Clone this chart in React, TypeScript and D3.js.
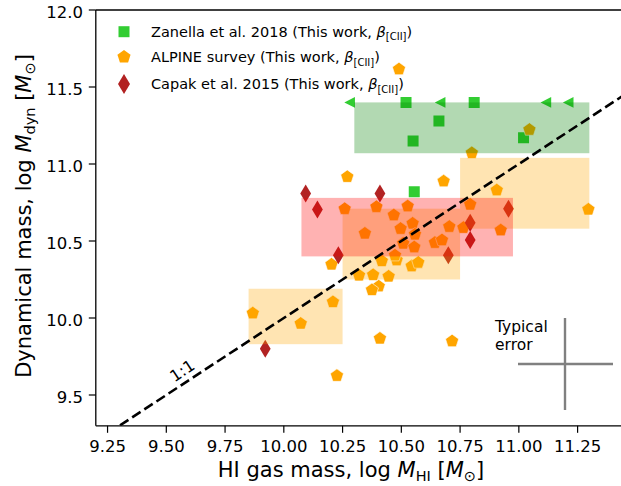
import React from "react";
import * as d3 from "d3";

// ---- data ----
const zanellaX = [10.52, 10.81, 10.66, 10.55, 11.02, 10.555];
const zanellaY = [11.4, 11.4, 11.28, 11.15, 11.17, 10.82];

const limitX = [10.28, 10.665, 11.115, 11.21];
const limitY = [11.4, 11.4, 11.4, 11.4];

const alpineX = [
  10.643, 10.48, 10.544, 10.404, 10.764,
  10.49, 11.045, 10.8, 10.27, 10.68, 10.906, 10.259, 10.394, 10.527, 10.468,
  10.793, 10.548, 10.497, 10.558, 10.345, 10.704, 10.923, 10.673, 10.508,
  10.555, 10.473, 10.417, 10.572, 10.203, 10.32, 10.38, 10.446, 10.375,
  9.868, 10.072, 10.209, 10.409, 10.226, 10.716, 11.296,
];
const alpineY = [
  10.489, 10.376, 10.337, 10.206, 10.586,
  11.616, 11.223, 11.072, 10.917, 10.888, 10.83, 10.709, 10.722, 10.726, 10.668,
  10.737, 10.614, 10.58, 10.543, 10.549, 10.593, 10.57, 10.506, 10.484,
  10.46, 10.407, 10.37, 10.36, 10.348, 10.277, 10.28, 10.27, 10.182,
  10.031, 9.964, 10.104, 9.867, 9.625, 9.85, 10.705,
];

const capakX = [10.093, 10.143, 10.409, 10.956, 10.793, 10.793, 10.7, 10.232, 9.921];
const capakY = [10.808, 10.705, 10.808, 10.709, 10.618, 10.506, 10.407, 10.407, 9.8];

// summary boxes per sample
const boxSample = ["zanella", "alpine", "alpine", "alpine", "capak"];
const boxX0 = [10.3, 10.75, 10.25, 9.85, 10.075];
const boxX1 = [11.3, 11.3, 10.75, 10.25, 10.975];
const boxY0 = [11.07, 10.58, 10.25, 9.83, 10.4];
const boxY1 = [11.4, 11.04, 10.71, 10.19, 10.78];

const xTicks = [9.25, 9.5, 9.75, 10.0, 10.25, 10.5, 10.75, 11.0, 11.25];
const yTicks = [9.5, 10.0, 10.5, 11.0, 11.5, 12.0];

const legendLabels = ["Zanella et al. 2018 (This work, ", "ALPINE survey (This work, ", "Capak et al. 2015 (This work, "];

// ---- styles ----
const W = 621;
const H = 486;
const L = 95.8;
const R = 624.6;
const T = 10;
const B = 425.8;
const FONT = "DejaVu Sans, sans-serif";
const GREEN = "#32cd32";
const ORANGE = "#ffa500";
const RED = "#b22222";
const boxColor: Record<string, string> = { zanella: "green", alpine: "orange", capak: "red" };

const pentagon = (r: number) => {
  const pts = d3.range(5).map((k) => {
    const a = (-90 + 72 * k) * (Math.PI / 180);
    return [r * Math.cos(a), r * Math.sin(a)];
  });
  return "M" + pts.map((p) => p[0].toFixed(2) + "," + p[1].toFixed(2)).join("L") + "Z";
};
const diamond = (hw: number, hh: number) => `M0,${-hh}L${hw},0L0,${hh}L${-hw},0Z`;
const square = (s: number) => `M${-s / 2},${-s / 2}h${s}v${s}h${-s}Z`;
const triLeft = (s: number) => `M${-s},0L${s},${-s}L${s},${s}Z`;

const PENT = pentagon(6.9);
const DIAM = diamond(5.4, 9);
const SQ = square(11);
const TRI = triLeft(5.3);

export default function App() {
  const x = d3.scaleLinear().domain([9.2, 11.45]).range([L, R]);
  const y = d3.scaleLinear().domain([9.3, 12.0]).range([B, T]);

  const lineX = [9.2, 11.45];

  const legendY = [31.7, 57, 84];
  const legendShapes = [SQ, PENT, diamond(6, 10)];
  const legendColors = [GREEN, ORANGE, RED];

  const a = Math.atan2(y(10) - y(9), x(10) - x(9));
  const angle = (a * 180) / Math.PI;
  const lv = 9.595;
  const lblX = x(lv) + Math.sin(a) * 6;
  const lblY = y(lv) - Math.cos(a) * 6;

  return (
    <svg
      width={W}
      height={H}
      style={{ position: "absolute", left: 0, top: 0, background: "#fff" }}
      fontFamily={FONT}
    >
      <defs>
        <clipPath id="plotclip">
          <rect x={L} y={T} width={R - L} height={B - T} />
        </clipPath>
      </defs>
      <rect x={0} y={0} width={W} height={H} fill="#fff" />

      <g clipPath="url(#plotclip)">
        {/* Zanella squares */}
        {zanellaX.map((v, i) => (
          <path key={"z" + i} d={SQ} transform={`translate(${x(v)},${y(zanellaY[i])})`} fill={GREEN} />
        ))}
        {limitX.map((v, i) => (
          <path key={"l" + i} d={TRI} transform={`translate(${x(v)},${y(limitY[i])})`} fill={GREEN} />
        ))}
        {/* ALPINE pentagons */}
        {alpineX.map((v, i) => (
          <path
            key={"a" + i}
            d={PENT}
            transform={`translate(${x(v)},${y(alpineY[i])})`}
            fill={ORANGE}
            stroke="#fff"
            strokeWidth={0.6}
          />
        ))}
        {/* Capak diamonds */}
        {capakX.map((v, i) => (
          <path key={"c" + i} d={DIAM} transform={`translate(${x(v)},${y(capakY[i])})`} fill={RED} />
        ))}
        {/* boxes */}
        {boxSample.map((s, i) => (
          <rect
            key={"b" + i}
            x={x(boxX0[i])}
            y={y(boxY1[i])}
            width={x(boxX1[i]) - x(boxX0[i])}
            height={y(boxY0[i]) - y(boxY1[i])}
            fill={boxColor[s]}
            fillOpacity={0.3}
          />
        ))}
        {/* 1:1 line */}
        <line
          x1={x(lineX[0])}
          y1={y(lineX[0])}
          x2={x(lineX[1])}
          y2={y(lineX[1])}
          stroke="#000"
          strokeWidth={2.6}
          strokeDasharray="10,4.5"
        />
      </g>

      <text
        x={0}
        y={0}
        fontSize={16}
        textAnchor="middle"
        transform={`translate(${lblX},${lblY}) rotate(${angle})`}
      >
        1:1
      </text>

      {/* typical error */}
      <g stroke="#808080" strokeWidth={2.4}>
        <line x1={565} y1={318} x2={565} y2={410} />
        <line x1={518} y1={364} x2={613} y2={364} />
      </g>
      <text x={495} y={332} fontSize={15.5}>Typical</text>
      <text x={495} y={349.5} fontSize={15.5}>error</text>

      {/* axes */}
      <g stroke="#000" strokeWidth={1.3} fill="none">
        <line x1={L} y1={T} x2={L} y2={B} />
        <line x1={L} y1={B} x2={R} y2={B} />
        <line x1={L} y1={T} x2={R} y2={T} />
        <line x1={R} y1={T} x2={R} y2={B} />
      </g>
      {xTicks.map((t) => (
        <g key={"xt" + t}>
          <line x1={x(t)} x2={x(t)} y1={B} y2={B + 7} stroke="#000" strokeWidth={1.2} />
          <text x={x(t)} y={452} fontSize={16.5} textAnchor="middle">
            {d3.format(".2f")(t)}
          </text>
        </g>
      ))}
      {yTicks.map((t) => (
        <g key={"yt" + t}>
          <line x1={L - 7} x2={L} y1={y(t)} y2={y(t)} stroke="#000" strokeWidth={1.2} />
          <text x={83} y={y(t) + 8.3} fontSize={16.5} textAnchor="end">
            {d3.format(".1f")(t)}
          </text>
        </g>
      ))}

      {/* axis labels */}
      <text x={351} y={477} fontSize={21} textAnchor="middle">
        HI gas mass, log <tspan fontStyle="italic">M</tspan>
        <tspan fontSize={14.5} dy={4}>HI</tspan>
        <tspan dy={-4}> [</tspan>
        <tspan fontStyle="italic">M</tspan>
        <tspan fontSize={14.5} dy={4}>⊙</tspan>
        <tspan dy={-4}>]</tspan>
      </text>
      <text transform={`translate(31,216) rotate(-90)`} fontSize={21} textAnchor="middle">
        Dynamical mass, log <tspan fontStyle="italic">M</tspan>
        <tspan fontSize={14.5} dy={4}>dyn</tspan>
        <tspan dy={-4}> [</tspan>
        <tspan fontStyle="italic">M</tspan>
        <tspan fontSize={14.5} dy={4}>⊙</tspan>
        <tspan dy={-4}>]</tspan>
      </text>

      {/* legend */}
      {legendLabels.map((lab, i) => (
        <g key={"lg" + i}>
          <path d={legendShapes[i]} transform={`translate(124,${legendY[i]})`} fill={legendColors[i]} />
          <text x={151} y={legendY[i] + 5} fontSize={14.5}>
            {lab}
            <tspan fontStyle="italic">β</tspan>
            <tspan fontSize={10} dy={3.5}>[CII]</tspan>
            <tspan dy={-3.5}>)</tspan>
          </text>
        </g>
      ))}
    </svg>
  );
}
